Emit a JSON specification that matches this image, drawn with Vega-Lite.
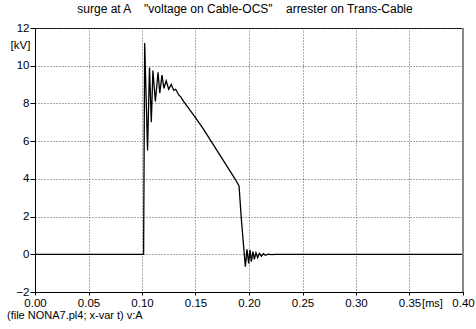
{
  "$schema": "https://vega.github.io/schema/vega-lite/v6.json",
  "width": 428,
  "height": 264,
  "autosize": {"type": "none"},
  "padding": {"left": 35, "top": 28, "right": 13, "bottom": 37},
  "background": "white",
  "config": {
    "view": {"stroke": "#000", "strokeWidth": 1},
    "font": "Liberation Sans",
    "axis": {"labelFont": "Liberation Sans", "titleFont": "Liberation Sans", "labelColor": "#000", "titleColor": "#000", "titleFontWeight": "normal"}
  },
  "title": {
    "text": "surge at A \u00a0\u00a0 \"voltage on Cable-OCS\" \u00a0\u00a0 arrester on Trans-Cable",
    "anchor": "middle",
    "frame": "group",
    "fontSize": 12,
    "fontWeight": "normal",
    "font": "Liberation Sans",
    "color": "#000",
    "baseline": "alphabetic",
    "offset": -3,
    "dx": -4
  },
  "datasets": {
    "surge": [
      {"t": 0, "v": 0},
      {"t": 0.1015, "v": 0},
      {"t": 0.1025, "v": 11.2},
      {"t": 0.1052, "v": 5.5},
      {"t": 0.107, "v": 9.9},
      {"t": 0.1087, "v": 7.0},
      {"t": 0.1102, "v": 9.75},
      {"t": 0.1125, "v": 8.1},
      {"t": 0.115, "v": 9.65},
      {"t": 0.1166, "v": 8.55},
      {"t": 0.1187, "v": 9.5},
      {"t": 0.1205, "v": 8.8},
      {"t": 0.1226, "v": 9.2},
      {"t": 0.125, "v": 8.75},
      {"t": 0.1273, "v": 9.0},
      {"t": 0.1296, "v": 8.7},
      {"t": 0.1315, "v": 8.75},
      {"t": 0.1343, "v": 8.45},
      {"t": 0.1362, "v": 8.35},
      {"t": 0.139, "v": 8.1},
      {"t": 0.1493, "v": 7.3},
      {"t": 0.157, "v": 6.68},
      {"t": 0.1866, "v": 4.03},
      {"t": 0.1907, "v": 3.62},
      {"t": 0.1929, "v": 1.82},
      {"t": 0.1966, "v": -0.66},
      {"t": 0.1981, "v": 0.26},
      {"t": 0.1997, "v": -0.48},
      {"t": 0.2009, "v": 0.23},
      {"t": 0.2022, "v": -0.39},
      {"t": 0.2037, "v": 0.14},
      {"t": 0.205, "v": -0.27},
      {"t": 0.2065, "v": 0.08},
      {"t": 0.2081, "v": -0.18},
      {"t": 0.2097, "v": 0.05},
      {"t": 0.2116, "v": -0.1},
      {"t": 0.2135, "v": 0.03},
      {"t": 0.2153, "v": -0.05},
      {"t": 0.2178, "v": 0.01},
      {"t": 0.2209, "v": -0.02},
      {"t": 0.225, "v": 0},
      {"t": 0.4, "v": 0}
    ],
    "note": [
      {"t": 0, "v": -2, "label": "(file NONA7.pl4; x-var t)  v:A"}
    ]
  },
  "layer": [
    {
      "data": {"name": "surge"},
      "mark": {"type": "line", "color": "#000", "strokeWidth": 1.3, "clip": true},
      "encoding": {
        "x": {
          "field": "t", "type": "quantitative",
          "scale": {"domain": [0, 0.4], "nice": false, "zero": false},
          "axis": {
            "orient": "bottom",
            "values": [0, 0.05, 0.1, 0.15, 0.2, 0.25, 0.3, 0.35, 0.4],
            "format": ".2f",
            "labelFontSize": 11.5,
            "labelPadding": 2,
            "tickSize": 3,
            "tickColor": "#000",
            "domainColor": "#000",
            "grid": true,
            "gridColor": "#555",
            "gridDash": [1, 2],
            "labelFlush": false,
            "title": "[ms]",
            "titleFontSize": 11,
            "titleX": 397,
            "titleY": 14,
            "titleAlign": "center",
            "titleBaseline": "alphabetic"
          }
        },
        "y": {
          "field": "v", "type": "quantitative",
          "scale": {"domain": [-2, 12], "nice": false, "zero": false},
          "axis": {
            "orient": "left",
            "values": [-2, 0, 2, 4, 6, 8, 10, 12],
            "labelFontSize": 11.5,
            "labelPadding": 1,
            "tickSize": 5,
            "tickColor": "#000",
            "domainColor": "#000",
            "grid": true,
            "gridColor": "#555",
            "gridDash": [1, 2],
            "labelFlush": false,
            "title": "[kV]",
            "titleFontSize": 11.5,
            "titleAngle": 0,
            "titleX": -15,
            "titleY": 20,
            "titleAlign": "center",
            "titleBaseline": "alphabetic"
          }
        }
      }
    },
    {
      "data": {"name": "note"},
      "mark": {"type": "rule", "color": "#888", "strokeWidth": 2},
      "encoding": {
        "x": {"datum": 0.4, "type": "quantitative"}
      }
    },
    {
      "data": {"name": "note"},
      "mark": {"type": "text", "align": "left", "baseline": "alphabetic", "fontSize": 11, "font": "Liberation Sans", "color": "#000", "dx": -28, "dy": 27, "clip": false},
      "encoding": {
        "x": {"field": "t", "type": "quantitative"},
        "y": {
          "field": "v", "type": "quantitative",
          "axis": {
            "values": [-2, 0, 2, 4, 6, 8, 10, 12],
            "labelFontSize": 11.5,
            "labelPadding": 1,
            "tickSize": 5,
            "labelFlush": false,
            "title": "[kV]"
          }
        },
        "text": {"field": "label"}
      }
    }
  ]
}
